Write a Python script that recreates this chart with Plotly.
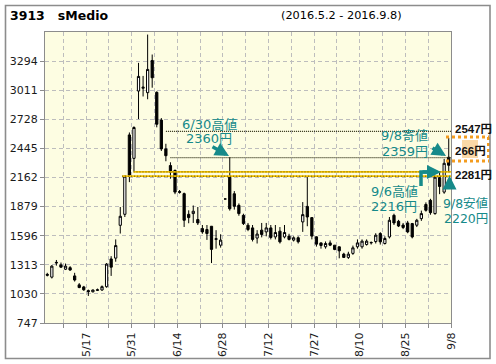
import plotly.graph_objects as go

# ---------------- data ----------------
dates = ["5/2", "5/6", "5/9", "5/10", "5/11", "5/12", "5/13", "5/16", "5/17", "5/18",
         "5/19", "5/20", "5/23", "5/24", "5/25", "5/26", "5/27", "5/30", "5/31", "6/1",
         "6/2", "6/3", "6/6", "6/7", "6/8", "6/9", "6/10", "6/13", "6/14", "6/15",
         "6/16", "6/17", "6/20", "6/21", "6/22", "6/23", "6/24", "6/27", "6/28", "6/29",
         "6/30", "7/1", "7/4", "7/5", "7/6", "7/7", "7/8", "7/11", "7/12", "7/13",
         "7/14", "7/15", "7/19", "7/20", "7/21", "7/22", "7/25", "7/26", "7/27", "7/28",
         "7/29", "8/1", "8/2", "8/3", "8/4", "8/5", "8/8", "8/9", "8/10", "8/12",
         "8/15", "8/16", "8/17", "8/18", "8/19", "8/22", "8/23", "8/24", "8/25", "8/26",
         "8/29", "8/30", "8/31", "9/1", "9/2", "9/5", "9/6", "9/7", "9/8"]

opens = [1220, 1193, 1330, 1312, 1270, 1285, 1205, 1118, 1098, 1062,
         1050, 1064, 1068, 1100, 1370, 1378, 1697, 1804, 2576, 2348,
         3003, 3030, 2987, 3300, 2990, 2720, 2440, 2278, 2230, 2025,
         2005, 1804, 1811, 1753, 1665, 1656, 1688, 1560, 1504, 1953,
         2165, 2004, 1891, 1794, 1698, 1672, 1573, 1650, 1633, 1672,
         1584, 1640, 1584, 1592, 1553, 1576, 1730, 1881, 1772, 1585,
         1526, 1488, 1526, 1504, 1488, 1417, 1385, 1424, 1488, 1488,
         1510, 1526, 1539, 1617, 1520, 1584, 1794, 1736, 1700, 1720,
         1714, 1698, 1762, 1900, 1940, 1811, 2160, 2020, 2359]
highs = [1235, 1310, 1360, 1335, 1325, 1300, 1235, 1135, 1108, 1072,
         1072, 1082, 1112, 1330, 1397, 1560, 1875, 2180, 2600, 2660,
         3277, 3150, 3552, 3358, 3000, 2740, 2490, 2310, 2240, 2040,
         2015, 1843, 1890, 1875, 1700, 1700, 1690, 1650, 1610, 1953,
         2360, 2030, 1910, 1810, 1720, 1700, 1650, 1720, 1720, 1700,
         1700, 1680, 1700, 1615, 1590, 1590, 1923, 2165, 1772, 1590,
         1530, 1540, 1550, 1504, 1490, 1430, 1440, 1500, 1560, 1560,
         1560, 1540, 1620, 1630, 1590, 1778, 1810, 1750, 1720, 1740,
         1720, 1760, 1840, 1920, 1955, 2180, 2216, 2343, 2547]
lows = [1200, 1180, 1305, 1285, 1262, 1255, 1150, 1085, 1060, 1010,
        1045, 1058, 1060, 1090, 1205, 1343, 1617, 1778, 2117, 2220,
        2730, 2950, 2923, 3035, 2650, 2420, 2320, 2150, 2000, 2005,
        1681, 1717, 1720, 1700, 1615, 1555, 1330, 1470, 1480, 1953,
        1840, 1850, 1790, 1700, 1640, 1540, 1520, 1580, 1590, 1560,
        1560, 1520, 1570, 1550, 1540, 1520, 1633, 1688, 1560, 1490,
        1470, 1470, 1495, 1455, 1376, 1380, 1370, 1410, 1470, 1470,
        1500, 1510, 1520, 1510, 1510, 1569, 1700, 1680, 1660, 1620,
        1570, 1680, 1740, 1830, 1800, 1800, 2000, 2004, 2220]
closes = [1212, 1300, 1336, 1290, 1300, 1262, 1165, 1092, 1070, 1052,
          1068, 1070, 1100, 1320, 1290, 1500, 1785, 2175, 2186, 2648,
          3145, 3040, 3213, 3132, 2680, 2440, 2374, 2213, 2020, 2018,
          1746, 1772, 1834, 1720, 1633, 1617, 1463, 1566, 1553, 1953,
          1858, 1882, 1811, 1714, 1656, 1560, 1612, 1608, 1672, 1579,
          1627, 1536, 1627, 1560, 1576, 1537, 1801, 1778, 1592, 1514,
          1501, 1520, 1504, 1462, 1449, 1385, 1417, 1478, 1526, 1543,
          1543, 1530, 1601, 1536, 1569, 1746, 1720, 1690, 1676, 1633,
          1584, 1746, 1811, 1843, 1820, 2165, 2075, 2300, 2281]

y_ticks = [747, 1030, 1313, 1596, 1879, 2162, 2445, 2728, 3011, 3294]
y_top = 3577
tick_days = [3, 8, 13, 18, 23, 28, 33, 38, 43, 48, 53, 58, 63, 68, 73, 78, 83, 88]
label_days = [8, 18, 28, 38, 48, 58, 68, 78, 88]

# reference levels (start day index, value)
dotted_levels = [(26, 2610), (27, 2355)]
yellow_levels = [(18.9, 2216), (16.4, 2175)]

title_code = "3913"
title_name = "sMedio"
period_text = "(2016.5.2 - 2016.9.8)"

# ---------------- figure ----------------
x = list(range(len(dates)))
W, H = 496, 364
PL, PR, PT, PB = 45, 451, 32, 323


def px(v):
    return (v - PL) / (PR - PL)


def py(v):
    return (PB - v) / (PB - PT)


fig = go.Figure()
fig.add_trace(go.Candlestick(
    x=x, open=opens, high=highs, low=lows, close=closes,
    increasing=dict(fillcolor="white", line=dict(color="black", width=1)),
    decreasing=dict(fillcolor="black", line=dict(color="black", width=1)),
    whiskerwidth=0, hoverinfo="skip", showlegend=False,
))

tickvals = [d + 0.5 for d in tick_days]
ticktext = [dates[d] if d in label_days else "" for d in tick_days]

TEAL = "#168a8a"
GRID = "#bdbdbd"
AXC = "#8c8c8c"

fig.update_layout(
    template="none",
    width=W, height=H,
    margin=dict(l=PL, r=W - PR, t=PT, b=H - PB, pad=0, autoexpand=False),
    paper_bgcolor="white", plot_bgcolor="#fdfde2",
    showlegend=False, hovermode=False,
    font=dict(family="DejaVu Sans, Noto Sans CJK JP", size=11, color="#1a1a1a"),
    xaxis=dict(range=[-0.5, len(dates) - 0.5], rangeslider=dict(visible=False),
               automargin=False,
               tickmode="array", tickvals=tickvals, ticktext=ticktext, tickangle=-90,
               ticks="outside", ticklen=4, tickcolor=AXC, showgrid=True,
               gridcolor=GRID, griddash="4px,3px", gridwidth=1,
               showline=True, linecolor=AXC, linewidth=1, mirror=True,
               zeroline=False, tickfont=dict(size=11)),
    yaxis=dict(range=[y_ticks[0], y_top], tickmode="array", tickvals=y_ticks,
               automargin=False,
               ticktext=[str(v) for v in y_ticks], ticks="outside", ticklen=4,
               tickcolor=AXC, showgrid=True, gridcolor=GRID, griddash="4px,3px",
               gridwidth=1, showline=True, linecolor=AXC, linewidth=1, mirror=True,
               zeroline=False, tickfont=dict(size=11)),
)

shapes = []
# horizontal reference lines
for start, val in yellow_levels:
    shapes.append(dict(type="line", xref="x", yref="y", x0=start, x1=len(dates) - 0.5,
                       y0=val, y1=val, line=dict(color="#f2c000", width=1.8)))
    shapes.append(dict(type="line", xref="x", yref="y", x0=start, x1=len(dates) - 0.5,
                       y0=val, y1=val, line=dict(color="#3a3000", width=0.8, dash="1px,2px")))
for start, val in dotted_levels:
    shapes.append(dict(type="line", xref="x", yref="y", x0=start, x1=len(dates) - 0.5,
                       y0=val, y1=val, line=dict(color="#2a2a10", width=1.2, dash="1px,1px")))

# orange dotted box on the right
ORANGE = "#f39c1f"
shapes.append(dict(type="rect", xref="paper", yref="paper", x0=px(462), x1=px(478),
                   y0=py(158), y1=py(140), fillcolor="rgba(245,170,60,0.45)", line=dict(width=0),
                   layer="below"))
for yy in (137, 161):
    shapes.append(dict(type="line", xref="paper", yref="paper", x0=px(446), x1=px(489),
                       y0=py(yy), y1=py(yy), line=dict(color=ORANGE, width=3, dash="dot")))
shapes.append(dict(type="line", xref="paper", yref="paper", x0=px(488.5), x1=px(488.5),
                   y0=py(137), y1=py(161), line=dict(color=ORANGE, width=3, dash="dot")))

# L-shaped arrow tail (9/6)
shapes.append(dict(type="path", xref="paper", yref="paper",
                   path=f"M {px(421)} {py(186)} L {px(421)} {py(172)} L {px(432)} {py(172)}",
                   line=dict(color=TEAL, width=3.5)))

# outer frame
shapes.append(dict(type="rect", xref="paper", yref="paper", x0=px(5.5), x1=px(490),
                   y0=py(358.5), y1=py(5.5), line=dict(color="#8c8c8c", width=1.6)))

fig.update_layout(shapes=shapes)

ann = []
# titles
ann.append(dict(xref="paper", yref="paper", x=px(8), y=py(16), xanchor="left", yanchor="middle",
                text=f"<b>{title_code}\u00a0\u00a0 {title_name}</b>", showarrow=False,
                font=dict(size=12.5, color="black", family="DejaVu Sans")))
ann.append(dict(xref="paper", yref="paper", x=px(341.5), y=py(16), xanchor="center", yanchor="middle",
                text=period_text, showarrow=False,
                font=dict(size=11.3, color="black", family="DejaVu Sans")))

# teal labels
teal_font = dict(size=13, color=TEAL, family="DejaVu Sans, Noto Sans CJK JP")
teal_font_s = dict(size=12.5, color=TEAL, family="DejaVu Sans, Noto Sans CJK JP")
for (cx, cy, t, f) in [(209, 124.5, "6/30高値", teal_font), (208.5, 138.5, "2360円", teal_font),
                       (404, 135, "9/8寄値", teal_font), (404.5, 151.5, "2359円", teal_font),
                       (394, 191.5, "9/6高値", teal_font), (394, 206.5, "2216円", teal_font),
                       (466, 203.5, "9/8安値", teal_font_s), (466, 218.5, "2220円", teal_font_s)]:
    ann.append(dict(xref="paper", yref="paper", x=px(cx), y=py(cy), xanchor="center",
                    yanchor="middle", text=t, showarrow=False, font=f))

# arrows
for (hx, hy, ax, ay) in [(229, 156, -18, -10), (446, 156, -15, -9),
                         (441, 172, -20, 0), (449.5, 175.5, 0, 15)]:
    ann.append(dict(xref="paper", yref="paper", x=px(hx), y=py(hy), ax=ax, ay=ay,
                    text="", showarrow=True, arrowhead=2, arrowsize=0.8,
                    arrowwidth=3.5, arrowcolor=TEAL))

# right-side price labels
rfont = dict(size=11.5, color="#111111", family="Liberation Sans, Noto Sans CJK JP")
ann.append(dict(xref="paper", yref="paper", x=px(452.5), y=py(129), xanchor="left", yanchor="middle",
                text="<b>2547円</b>", showarrow=False, font=rfont))
ann.append(dict(xref="paper", yref="paper", x=px(470), y=py(151), xanchor="center", yanchor="middle",
                text="<b>266円</b>", showarrow=False, font=rfont))
ann.append(dict(xref="paper", yref="paper", x=px(452.5), y=py(174.5), xanchor="left", yanchor="middle",
                text="<b>2281円</b>", showarrow=False, font=rfont))

fig.update_layout(annotations=ann)

fig.write_html("out.html", config={"displayModeBar": False},
               post_script="document.body.style.margin='0';")
